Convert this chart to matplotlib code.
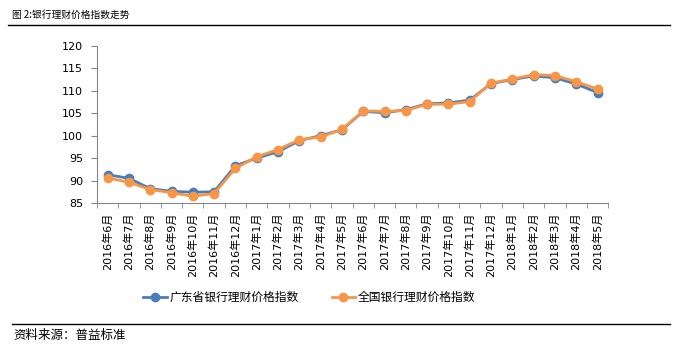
import matplotlib
matplotlib.use('Agg')
import matplotlib.pyplot as plt
from matplotlib.lines import Line2D

# 数据
meses = ['2016年6月', '2016年7月', '2016年8月', '2016年9月', '2016年10月', '2016年11月', '2016年12月',
         '2017年1月', '2017年2月', '2017年3月', '2017年4月', '2017年5月', '2017年6月', '2017年7月',
         '2017年8月', '2017年9月', '2017年10月', '2017年11月', '2017年12月',
         '2018年1月', '2018年2月', '2018年3月', '2018年4月', '2018年5月']
guangdong = [91.3, 90.5, 88.2, 87.6, 87.4, 87.5, 93.3, 95.0, 96.4, 98.9, 100.0, 101.3, 105.4,
             105.1, 105.8, 107.1, 107.3, 107.9, 111.6, 112.5, 113.3, 112.9, 111.5, 109.6]
quanguo = [90.6, 89.6, 88.0, 87.3, 86.5, 87.1, 92.7, 95.3, 96.9, 99.1, 99.7, 101.4, 105.5,
           105.4, 105.6, 107.0, 107.0, 107.6, 111.7, 112.6, 113.6, 113.4, 112.0, 110.4]
yticks = [85, 90, 95, 100, 105, 110, 115, 120]

fuentes = ['DejaVu Sans', 'Noto Sans CJK SC']
cjk = ['Noto Sans CJK SC', 'DejaVu Sans']
plt.rcParams['font.family'] = fuentes

azul = '#4a7ebb'
naranja = '#f79646'
gris = '#868686'

fig = plt.figure(figsize=(6.78, 3.53), dpi=100)
ax = fig.add_axes([0.143, 0.425, 0.754, 0.445])

x = list(range(len(meses)))
ax.plot(x, guangdong, color=azul, lw=2, marker='o', ms=6, label='广东省银行理财价格指数')
ax.plot(x, quanguo, color=naranja, lw=2, marker='o', ms=6, label='全国银行理财价格指数')

ax.set_xlim(-0.5, len(meses) - 0.5)
ax.set_ylim(85, 120)
ax.set_yticks(yticks)
ax.tick_params(axis='y', labelsize=8, length=4, color=gris, pad=6)
ax.set_xticks(x)
ax.set_xticklabels(meses, rotation=90, fontsize=8, family=fuentes)
ax.tick_params(axis='x', length=0, pad=7)
ax.set_xticks([i - 0.5 for i in range(len(meses) + 1)], minor=True)
ax.tick_params(axis='x', which='minor', length=3.6, color=gris)
for lado in ['top', 'right']:
    ax.spines[lado].set_visible(False)
for lado in ['left', 'bottom']:
    ax.spines[lado].set_color(gris)

ax.legend(loc='center', bbox_to_anchor=(0.415, -0.6), ncol=2, frameon=False,
          prop={'family': cjk, 'size': 8.5}, handlelength=2.0, columnspacing=2.8,
          handletextpad=0.2)

# titulo y fuente
fig.text(0.017, 0.957, '图 2:银行理财价格指数走势', fontsize=7, family=cjk, va='center')
fig.add_artist(Line2D([0.012, 0.988], [0.928, 0.928], color='black', lw=1))
fig.add_artist(Line2D([0.018, 0.988], [0.082, 0.082], color='black', lw=1))
fig.text(0.02, 0.05, '资料来源：普益标准', fontsize=9, family=cjk, va='center')

fig.savefig('out.png', dpi=100)
